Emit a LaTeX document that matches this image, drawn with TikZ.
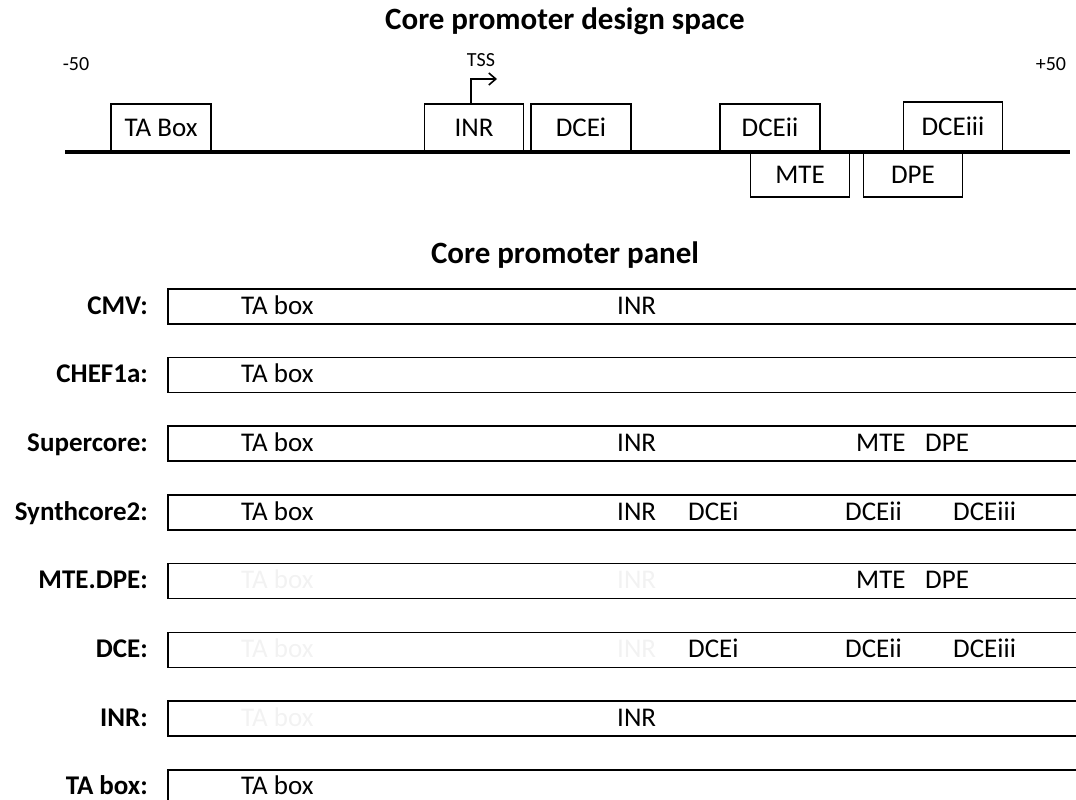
\documentclass[tikz,border=0pt]{standalone}
\usepackage{fontspec}
\setmainfont{Carlito}
\usetikzlibrary{arrows.meta,positioning,calc}

\begin{document}
\begin{tikzpicture}[
    x=1pt, y=-1pt,
    elembox/.style={rectangle, draw, line width=1.6pt, minimum width=99, minimum height=47, inner sep=0pt, font=\fontsize{27}{30}\selectfont},
    lanebox/.style={rectangle, draw, line width=1.6pt, minimum width=940, minimum height=35, inner sep=0pt, anchor=north west},
    lanetext/.style={anchor=base west, inner sep=0pt, font=\fontsize{27}{30}\selectfont},
    lanefaint/.style={lanetext, text=black!5},
    lanelabel/.style={anchor=base east, inner sep=0pt, font=\fontsize{27}{30}\selectfont\bfseries},
    paneltitle/.style={anchor=base, inner sep=0pt, font=\fontsize{31}{34}\selectfont\bfseries},
    poslabel/.style={inner sep=0pt, font=\fontsize{20}{24}\selectfont},
    tss/.style={-{Straight Barb[length=7pt,width=12pt]}, line width=1.6pt}
  ]
    \clip (0,0) rectangle (1076,800);

    \node[paneltitle] (t1) at (565,30) {Core promoter design space};
    \node[poslabel] (m50) at (76,64) {-50};
    \node[poslabel] (p50) at (1051,64) {+50};
    \coordinate (lstart) at (65,152);
    \coordinate (lend) at (1070,152);
    \draw[line width=3.2pt] (lstart) -- (lend);

    \foreach \n/\x/\w/\t in {tabox/161/100/TA Box, inr/474/99/INR, dcei/581/100/DCEi, dceii/770/100/DCEii}
      \node[elembox, minimum width=\w, anchor=south] (\n) at (\x,152) {\t};
    \node[elembox, anchor=south, minimum height=49] (dceiii) at (953,152) {DCEiii};
    \foreach \n/\x/\t in {mte/800/MTE, dpe/913/DPE}
      \node[elembox, anchor=north, minimum height=44] (\n) at (\x,152) {\t};

    \node[poslabel] (tsslbl) at (481,60) {TSS};
    \coordinate (tsstip) at (497,79);
    \draw[tss] (inr.north -| 471,0) |- (tsstip);

    \node[paneltitle] (t2) at (565,263) {Core promoter panel};

    \foreach \i/\lbl in {1/CMV:, 2/CHEF1a:, 3/Supercore:, 4/Synthcore2:, 5/MTE.DPE:, 6/DCE:, 7/INR:, 8/TA box:}
      {
        \node[lanebox] (r\i) at (167,{288+68.7*(\i-1)}) {};
        \node[lanelabel] (l\i) at (148,{288+68.7*(\i-1)+26}) {\lbl};
      }

    \foreach \i/\x/\t/\s in {1/241/TA box/lanetext, 1/617/INR/lanetext,
        2/241/TA box/lanetext,
        3/241/TA box/lanetext, 3/617/INR/lanetext, 3/856/MTE/lanetext, 3/925/DPE/lanetext,
        4/241/TA box/lanetext, 4/617/INR/lanetext, 4/688/DCEi/lanetext, 4/845/DCEii/lanetext, 4/953/DCEiii/lanetext,
        5/241/TA box/lanefaint, 5/617/INR/lanefaint, 5/856/MTE/lanetext, 5/925/DPE/lanetext,
        6/241/TA box/lanefaint, 6/617/INR/lanefaint, 6/688/DCEi/lanetext, 6/845/DCEii/lanetext, 6/953/DCEiii/lanetext,
        7/241/TA box/lanefaint, 7/617/INR/lanetext,
        8/241/TA box/lanetext}
      \node[\s] (e\i-\x) at (\x,{288+68.7*(\i-1)+26}) {\t};
\end{tikzpicture}
\end{document}
